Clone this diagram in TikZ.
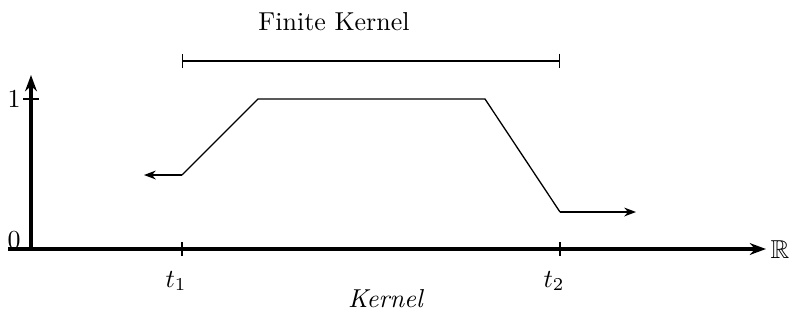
\documentclass[tikz,border=0pt]{standalone}
\usepackage{amsmath,amssymb}
\usetikzlibrary{arrows.meta,positioning}
\tikzset{
  axis/.style   ={line width=1.2pt, -{Stealth[length=2.2mm,width=1.6mm]}},
  tick/.style   ={line width=0.9pt},
  curve/.style  ={line width=0.5pt},
  tail/.style   ={line width=0.5pt, -{Stealth[length=1.6mm,width=1.2mm]}},
  span/.style   ={line width=0.5pt, {Bar[width=2mm]}-{Bar[width=2mm]}},
}
\begin{document}
\begin{tikzpicture}[x=0.01355cm,y=-0.01355cm]
  \useasboundingbox (0,0) rectangle (790,320);
  % axes
  \coordinate (o) at (31,249);
  \coordinate (xend) at (766,249);
  \coordinate (yend) at (31,75);
  \draw[axis] (8,249) -- (xend);
  \draw[axis] (o) -- (yend);
  \node (R) at (780,250) {$\mathbb{R}$};
  \node (zero) at (14,240) {$0$};
  \node (one) at (14,99) {$1$};
  \draw[tick] (23,99) -- (39,99);
  % kernel bounds
  \foreach \n/\x in {1/182,2/560}{
    \draw[tick] (\x,242) -- (\x,256);
    \node (t\n) at (\x-6,281) {$t_\n$};
  }
  \node (kern) at (386,299) {\textit{Kernel}};
  \node (fin) at (334,22) {Finite Kernel};
  \coordinate (fa) at (182,61);
  \coordinate (fb) at (560,61);
  \draw[span] (fa) -- (fb);
  % the function
  \coordinate (p0) at (182,175);
  \coordinate (p1) at (258,99);
  \coordinate (p2) at (485,99);
  \coordinate (p3) at (560,212);
  \coordinate (la) at (144,175);
  \coordinate (ra) at (636,212);
  \draw[curve] (p0) -- (p1) -- (p2) -- (p3);
  \draw[tail] (p0) -- (la);
  \draw[tail] (p3) -- (ra);
\end{tikzpicture}
\end{document}
